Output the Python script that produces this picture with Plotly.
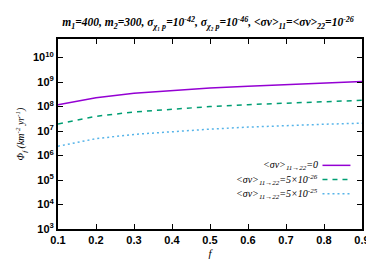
import plotly.graph_objects as go

f_vals = [0.1, 0.2, 0.3, 0.4, 0.5, 0.6, 0.7, 0.8, 0.9]
phi_0 = [1.2e8, 2.3e8, 3.5e8, 4.6e8, 5.7e8, 6.8e8, 7.9e8, 9.0e8, 1.05e9]
phi_5e26 = [1.95e7, 4.0e7, 6.0e7, 8.0e7, 1.0e8, 1.2e8, 1.4e8, 1.6e8, 1.8e8]
phi_5e25 = [2.4e6, 4.9e6, 7.3e6, 9.7e6, 1.2e7, 1.45e7, 1.7e7, 1.9e7, 2.1e7]
labels = ["&lt;σv&gt;<sub>11→22</sub>=0",
          "&lt;σv&gt;<sub>11→22</sub>=5×10<sup>-26</sup>",
          "&lt;σv&gt;<sub>11→22</sub>=5×10<sup>-25</sup>"]
colors = ["#9400D3", "#009E73", "#56B4E9"]
dashes = ["solid", "5px,5px", "2px,3px"]
x_ticks = [0.1, 0.2, 0.3, 0.4, 0.5, 0.6, 0.7, 0.8, 0.9]
y_tick_exps = [3, 4, 5, 6, 7, 8, 9, 10]

fig = go.Figure()
for ys, c, d in zip([phi_0, phi_5e26, phi_5e25], colors, dashes):
    fig.add_trace(go.Scatter(x=f_vals, y=ys, mode="lines",
                             line=dict(color=c, width=1.5, dash=d),
                             showlegend=False))

# manual gnuplot-style key: text then sample line
key_y = [0.335, 0.26, 0.185]
for lab, c, d, ky in zip(labels, colors, dashes, key_y):
    fig.add_annotation(xref="paper", yref="paper", x=0.862, y=ky,
                       text="<i>" + lab + "</i>", showarrow=False,
                       xanchor="right", yanchor="middle",
                       font=dict(family="Liberation Serif", size=10, color="black"))
    fig.add_shape(type="line", xref="paper", yref="paper",
                  x0=0.87, x1=0.962, y0=ky, y1=ky,
                  line=dict(color=c, width=1.5, dash=d))

tickfont = dict(family="Liberation Sans", size=11, color="black", weight="bold")
fig.update_xaxes(range=[0.1, 0.9], tickvals=x_ticks,
                 ticktext=[f"{v:.1f}" for v in x_ticks],
                 ticks="inside", ticklen=5, tickwidth=1, tickcolor="black",
                 mirror="ticks", showline=True, linewidth=2, linecolor="black",
                 showgrid=False, zeroline=False, tickfont=tickfont,
                 title=dict(text="<i>f</i>", standoff=4,
                            font=dict(family="Liberation Serif", size=11, color="black")))
fig.update_yaxes(type="log", range=[3, 10.76],
                 tickvals=[10 ** e for e in y_tick_exps],
                 ticktext=[f"10<sup>{e}</sup>" for e in y_tick_exps],
                 ticks="inside", ticklen=5, tickwidth=1, tickcolor="black",
                 mirror="ticks", showline=True, linewidth=2, linecolor="black",
                 showgrid=False, zeroline=False, tickfont=tickfont,
                 title=dict(text="<i>Φ<sub>f</sub> (km<sup>-2</sup> yr<sup>-1</sup>)</i>",
                            standoff=6,
                            font=dict(family="Liberation Serif", size=10, color="black")))
fig.update_layout(
    width=374, height=262,
    margin=dict(l=45, r=19, t=31, b=34),
    paper_bgcolor="white", plot_bgcolor="white",
    title=dict(text="<b><i>m<sub>1</sub>=400, m<sub>2</sub>=300, σ<sub>χ₁ p</sub>=10<sup>-42</sup>, "
                    "σ<sub>χ₂ p</sub>=10<sup>-46</sup>, &lt;σv&gt;<sub>11</sub>=&lt;σv&gt;<sub>22</sub>=10<sup>-26</sup></i></b>",
               x=0.535, xanchor="center", y=0.945, yanchor="middle",
               font=dict(family="Liberation Serif", size=11.5, color="black")),
)
fig.write_html("out.html")
